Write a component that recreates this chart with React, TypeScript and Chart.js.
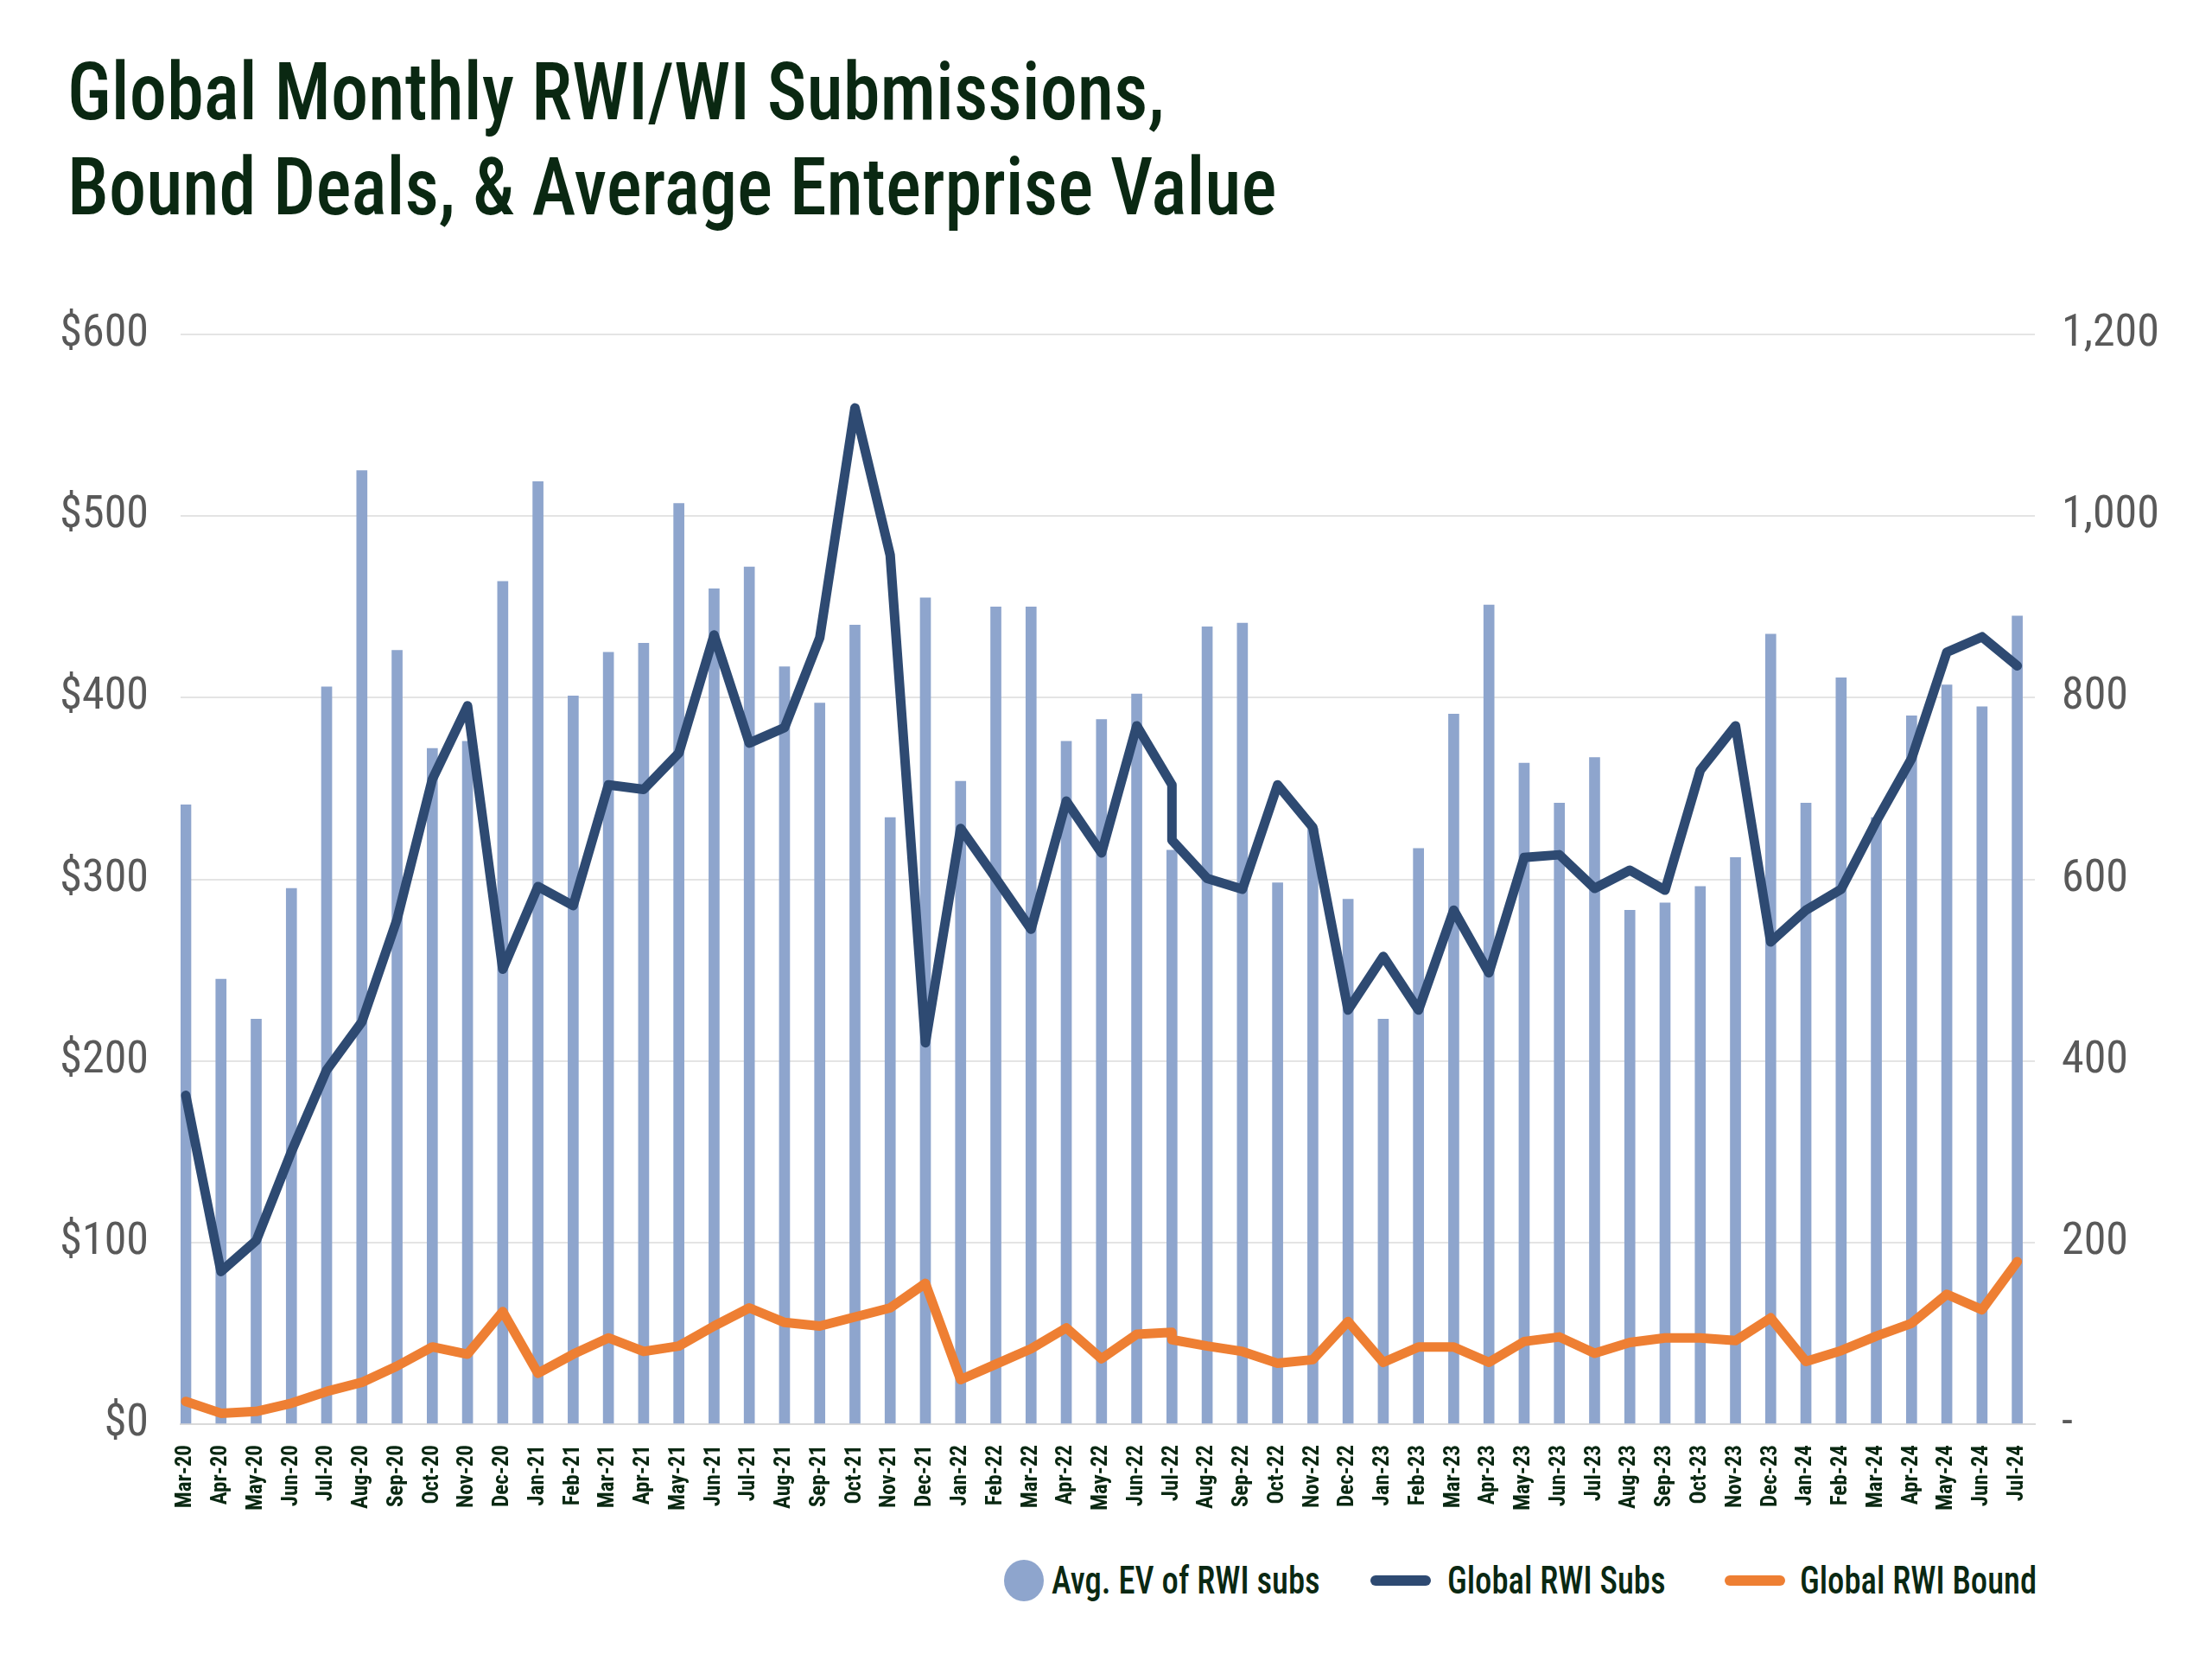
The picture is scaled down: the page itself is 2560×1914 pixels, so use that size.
import React, { useEffect, useRef } from 'react';
import { Chart, registerables } from 'chart.js';

Chart.register(...registerables);

const months = [
  'Mar-20', 'Apr-20', 'May-20', 'Jun-20', 'Jul-20', 'Aug-20', 'Sep-20', 'Oct-20', 'Nov-20', 'Dec-20',
  'Jan-21', 'Feb-21', 'Mar-21', 'Apr-21', 'May-21', 'Jun-21', 'Jul-21', 'Aug-21', 'Sep-21', 'Oct-21', 'Nov-21', 'Dec-21',
  'Jan-22', 'Feb-22', 'Mar-22', 'Apr-22', 'May-22', 'Jun-22', 'Jul-22', 'Aug-22', 'Sep-22', 'Oct-22', 'Nov-22', 'Dec-22',
  'Jan-23', 'Feb-23', 'Mar-23', 'Apr-23', 'May-23', 'Jun-23', 'Jul-23', 'Aug-23', 'Sep-23', 'Oct-23', 'Nov-23', 'Dec-23',
  'Jan-24', 'Feb-24', 'Mar-24', 'Apr-24', 'May-24', 'Jun-24', 'Jul-24',
];

// Avg. EV of RWI subs ($M, left axis)
const avgEV = [
  341, 245, 223, 295, 406, 525, 426, 372, 376, 464,
  519, 401, 425, 430, 507, 460, 472, 417, 397, 440, 334, 455,
  354, 450, 450, 376, 388, 402, 316, 439, 441, 298, 328, 289,
  223, 317, 391, 451, 364, 342, 367, 283, 287, 296, 312, 435,
  342, 411, 334, 390, 407, 395, 445,
];

// Global RWI Subs (count, right axis)
const rwiSubs = [
  362, 168, 202, 300, 390, 443, 556, 710, 791, 501,
  592, 571, 704, 699, 739, 869, 750, 767, 866, 1119, 957, 420,
  656, 601, 545, 686, 629, 769, 704, 601, 589, 704, 657, 456,
  515, 456, 566, 497, 624, 627, 590, 610, 588, 720, 769, 531,
  566, 589, 664, 733, 850, 867, 835,
];

// Global RWI Bound (count, right axis)
const rwiBound = [
  25, 12, 14, 23, 36, 46, 64, 85, 77, 124,
  56, 77, 95, 80, 86, 108, 128, 112, 108, 118, 128, 155,
  49, 66, 83, 106, 72, 99, 101, 86, 80, 67, 71, 113,
  68, 85, 85, 68, 91, 96, 78, 90, 95, 95, 92, 117,
  69, 81, 97, 111, 143, 126, 179,
];

// the source plots a second reading for Jul-22 (vertical step in both lines)
const restatedMonth = 'Jul-22';
const restatedSubs = 643;
const restatedBound = 93;

const BAR = '#8ea5cd';
const NAVY = '#2e4a72';
const ORANGE = '#ee7f33';
const GREEN = '#0a2812';
const GREY = '#595959';
const COND = '"Roboto Condensed", "Open Sans", sans-serif';

const linePoints = (values: number[], restated: number) => {
  const pts: { x: number; y: number }[] = [];
  values.forEach((v, i) => {
    pts.push({ x: i, y: v });
    if (months[i] === restatedMonth) pts.push({ x: i, y: restated });
  });
  return pts;
};

const EVChart = () => {
  const canvas = useRef<HTMLCanvasElement | null>(null);
  useEffect(() => {
    const ctx = canvas.current?.getContext('2d');
    if (!ctx) return;
    const chart = new Chart(ctx, {
      type: 'bar',
      data: {
        datasets: [
          {
            type: 'line',
            label: 'Global RWI Bound',
            data: linePoints(rwiBound, restatedBound),
            yAxisID: 'yR',
            borderColor: ORANGE,
            borderWidth: 11,
            borderJoinStyle: 'round',
            borderCapStyle: 'round',
            pointRadius: 0,
            order: 1,
          },
          {
            type: 'line',
            label: 'Global RWI Subs',
            data: linePoints(rwiSubs, restatedSubs),
            yAxisID: 'yR',
            borderColor: NAVY,
            borderWidth: 11,
            borderJoinStyle: 'round',
            borderCapStyle: 'round',
            pointRadius: 0,
            order: 2,
          },
          {
            type: 'bar',
            label: 'Avg. EV of RWI subs',
            data: avgEV.map((v, i) => ({ x: i, y: v })),
            yAxisID: 'yL',
            backgroundColor: BAR,
            barThickness: 12,
            order: 3,
          },
        ],
      } as any,
      options: {
        animation: false,
        responsive: false,
        devicePixelRatio: 1,
        layout: { padding: { top: 387, left: 0, right: 0, bottom: 0 } },
        plugins: { legend: { display: false }, tooltip: { enabled: false } },
        scales: {
          x: {
            type: 'linear',
            offset: false,
            min: -0.147,
            max: 52.5,
            grid: { display: false, drawTicks: false, offset: false },
            border: { display: true, color: '#d9d9d9', width: 2 },
            afterBuildTicks: (s: any) => {
              s.ticks = months.map((_, i) => ({ value: i }));
            },
            afterFit: (s: any) => {
              s.height = 112;
            },
            ticks: {
              autoSkip: false,
              minRotation: 90,
              maxRotation: 90,
              padding: 24,
              color: GREEN,
              font: { family: COND, size: 25, weight: 'bold' },
              callback: (v: any) => months[v] ?? '',
            },
          },
          yL: {
            position: 'left',
            min: 0,
            max: 600,
            grid: { color: '#e4e4e4', lineWidth: 2, drawTicks: false },
            border: { display: false },
            afterFit: (s: any) => {
              s.width = 209;
            },
            ticks: {
              stepSize: 100,
              padding: 37,
              color: GREY,
              font: { family: COND, size: 52 },
              callback: (v: any) => '$' + v,
            },
          },
          yR: {
            position: 'right',
            min: 0,
            max: 1200,
            grid: { drawOnChartArea: false, drawTicks: false },
            border: { display: false },
            afterFit: (s: any) => {
              s.width = 205;
            },
            ticks: {
              stepSize: 200,
              padding: 31,
              color: GREY,
              font: { family: COND, size: 52 },
              callback: (v: any) => (v === 0 ? '-' : Number(v).toLocaleString('en-US')),
            },
          },
        },
      } as any,
    });
    return () => chart.destroy();
  });
  return <canvas ref={canvas} width={2560} height={1760} style={{ position: 'absolute', left: 0, top: 0 }} />;
};

const legendItems = [
  { label: 'Avg. EV of RWI subs', color: BAR, kind: 'dot', marker: 1162, text: 1217 },
  { label: 'Global RWI Subs', color: NAVY, kind: 'line', marker: 1586, text: 1675 },
  { label: 'Global RWI Bound', color: ORANGE, kind: 'line', marker: 1996, text: 2083 },
];

const Legend = () => (
  <div style={{ position: 'absolute', left: 0, top: 1805, width: 2560, height: 48 }}>
    {legendItems.map((it) => (
      <React.Fragment key={it.label}>
        {it.kind === 'dot' ? (
          <span
            style={{
              position: 'absolute',
              left: it.marker,
              top: 0,
              width: 46,
              height: 48,
              borderRadius: '50%',
              background: it.color,
            }}
          />
        ) : (
          <span
            style={{
              position: 'absolute',
              left: it.marker,
              top: 18,
              width: 70,
              height: 12,
              borderRadius: 6,
              background: it.color,
            }}
          />
        )}
        <span
          style={{
            position: 'absolute',
            left: it.text,
            top: 0,
            height: 48,
            lineHeight: '48px',
            fontFamily: COND,
            fontWeight: 500,
            fontSize: 45,
            color: GREEN,
            whiteSpace: 'nowrap',
            transform: 'scaleX(0.86)',
            transformOrigin: 'left center',
          }}
        >
          {it.label}
        </span>
      </React.Fragment>
    ))}
  </div>
);

export default function App() {
  useEffect(() => {
    document.body.style.margin = '0';
  }, []);
  return (
    <div style={{ position: 'relative', width: 2560, height: 1914, background: '#fff', overflow: 'hidden' }}>
      <div
        style={{
          position: 'absolute',
          left: 78,
          top: 52,
          fontFamily: COND,
          fontWeight: 500,
          fontSize: 93,
          lineHeight: '110px',
          color: GREEN,
          whiteSpace: 'nowrap',
          transform: 'scaleX(0.93)',
          transformOrigin: 'left top',
        }}
      >
        Global Monthly RWI/WI Submissions,
        <br />
        Bound Deals, &amp; Average Enterprise Value
      </div>
      <EVChart />
      <Legend />
    </div>
  );
}
